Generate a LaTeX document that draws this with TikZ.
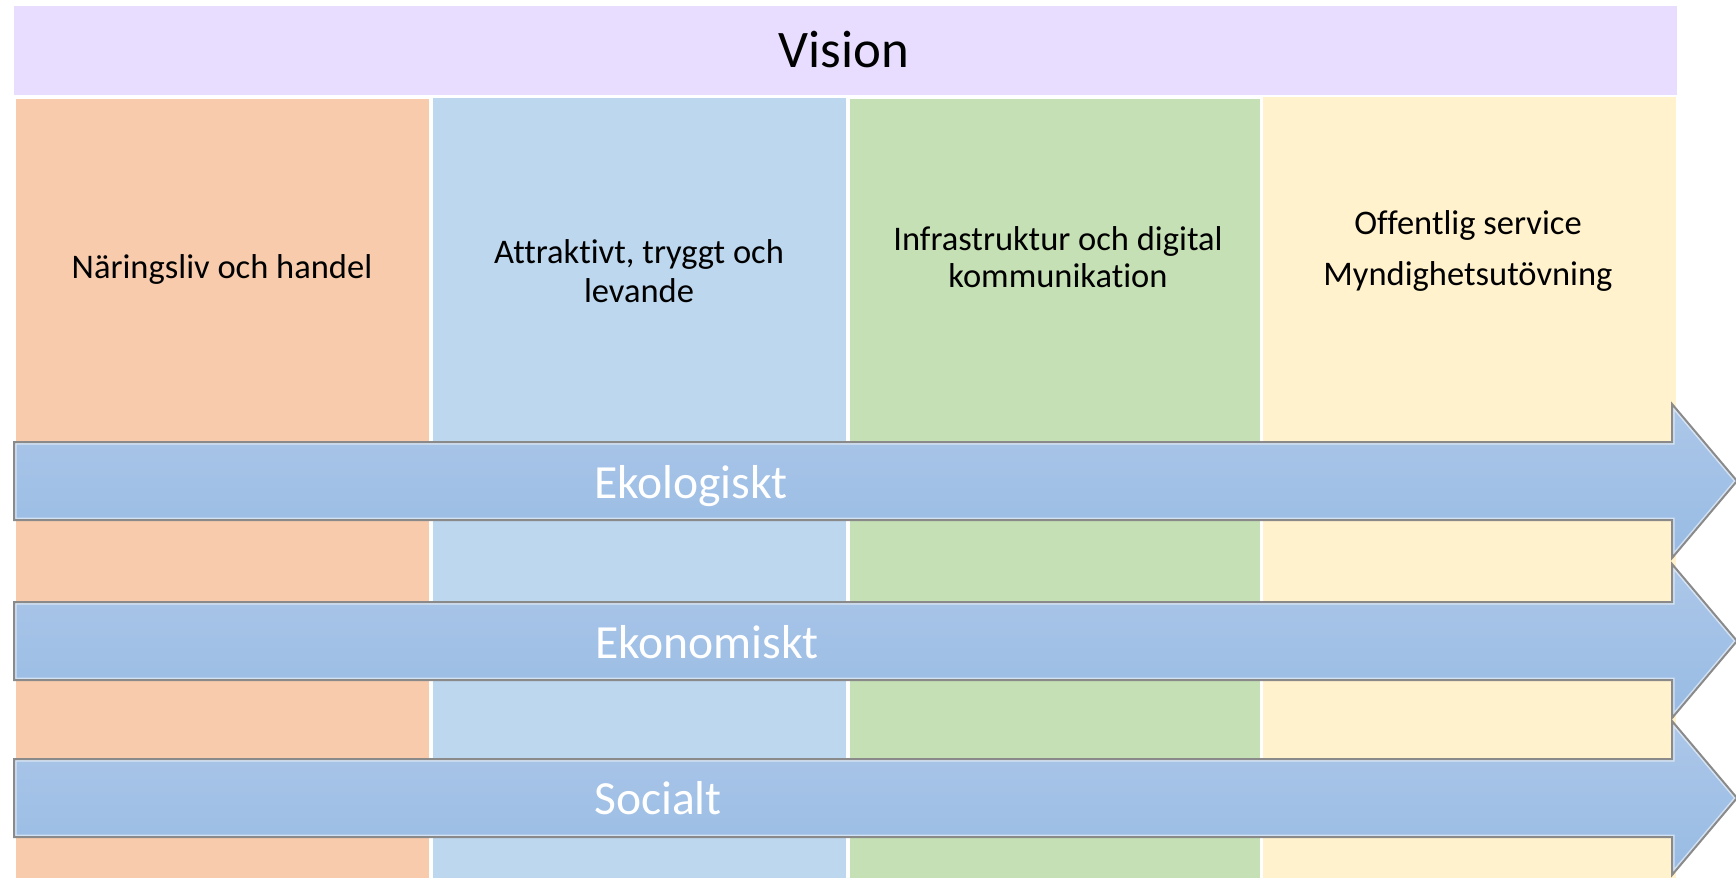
\documentclass[tikz,border=0pt]{standalone}
\usepackage{fontspec}
\setmainfont[RawFeature={-liga;-clig;-dlig;-rlig}]{Carlito}
\definecolor{visioncol}{HTML}{E8DCFF}
\definecolor{col1}{HTML}{F8CBAD}
\definecolor{col2}{HTML}{BDD7EE}
\definecolor{col3}{HTML}{C5E0B4}
\definecolor{col4}{HTML}{FFF2CC}
\definecolor{arrtop}{HTML}{ACC7E9}
\definecolor{arrbot}{HTML}{98BBE3}
\definecolor{arrline}{HTML}{8A8A8A}
\newcommand{\arrowband}[1]{%
  \path[top color=arrtop,bottom color=arrbot]
    (14,#1-39) -- (1672,#1-39) -- (1672,#1-77) -- (1737,#1) -- (1672,#1+77) -- (1672,#1+39) -- (14,#1+39) -- cycle;
  \begin{scope}
    \clip (14,#1-39) -- (1672,#1-39) -- (1672,#1-77) -- (1737,#1) -- (1672,#1+77) -- (1672,#1+39) -- (14,#1+39) -- cycle;
    \draw[white,opacity=0.55,line width=2.5pt]
      (14,#1-39) -- (1672,#1-39) -- (1672,#1-77) -- (1737,#1) -- (1672,#1+77) -- (1672,#1+39) -- (14,#1+39) -- cycle;
  \end{scope}
  \draw[arrline,line width=1pt,line join=miter]
    (14,#1-39) -- (1672,#1-39) -- (1672,#1-77) -- (1737,#1) -- (1672,#1+77) -- (1672,#1+39) -- (14,#1+39) -- cycle;
}
\tikzset{
  coltext/.style={anchor=base,text=black,inner sep=0pt,font=\fontsize{17.25pt}{20pt}\selectfont},
  bandtext/.style={anchor=base,text=white,inner sep=0pt,font=\fontsize{23.8pt}{28pt}\selectfont},
  visiontext/.style={anchor=base,text=black,inner sep=0pt,font=\fontsize{26.4pt}{31pt}\selectfont}
}
\begin{document}
\begin{tikzpicture}[x=0.5pt,y=-0.5pt]
\useasboundingbox (0,0) rectangle (1736,878);
\fill[white] (0,0) rectangle (1736,878);
% columns
\fill[col1] (16,99) rectangle (429,878);
\fill[col2] (433,98) rectangle (846,878);
\fill[col3] (850,99) rectangle (1260,878);
\fill[col4] (1263,97) rectangle (1676,878);
% vision band
\fill[visioncol] (14,6) rectangle (1677,95);
\node[visiontext] (vision) at (844,68) {Vision};
% column texts
\node[coltext] (c1) at (222,278) {Näringsliv och handel};
\node[coltext] (c2a) at (639,263) {Attraktivt, tryggt och};
\node[coltext] (c2b) at (639,302) {levande};
\node[coltext] (c3a) at (1058,250) {Infrastruktur och digital};
\node[coltext] (c3b) at (1058,287) {kommunikation};
\node[coltext] (c4a) at (1468,234) {Offentlig service};
\node[coltext] (c4b) at (1468,285) {Myndighetsutövning};
% arrows
\arrowband{481}
\arrowband{641}
\arrowband{798}
\node[bandtext] (eko) at (691,498) {Ekologiskt};
\node[bandtext] (ekon) at (707,658) {Ekonomiskt};
\node[bandtext] (soc) at (658,814) {Socialt};
\end{tikzpicture}
\end{document}
